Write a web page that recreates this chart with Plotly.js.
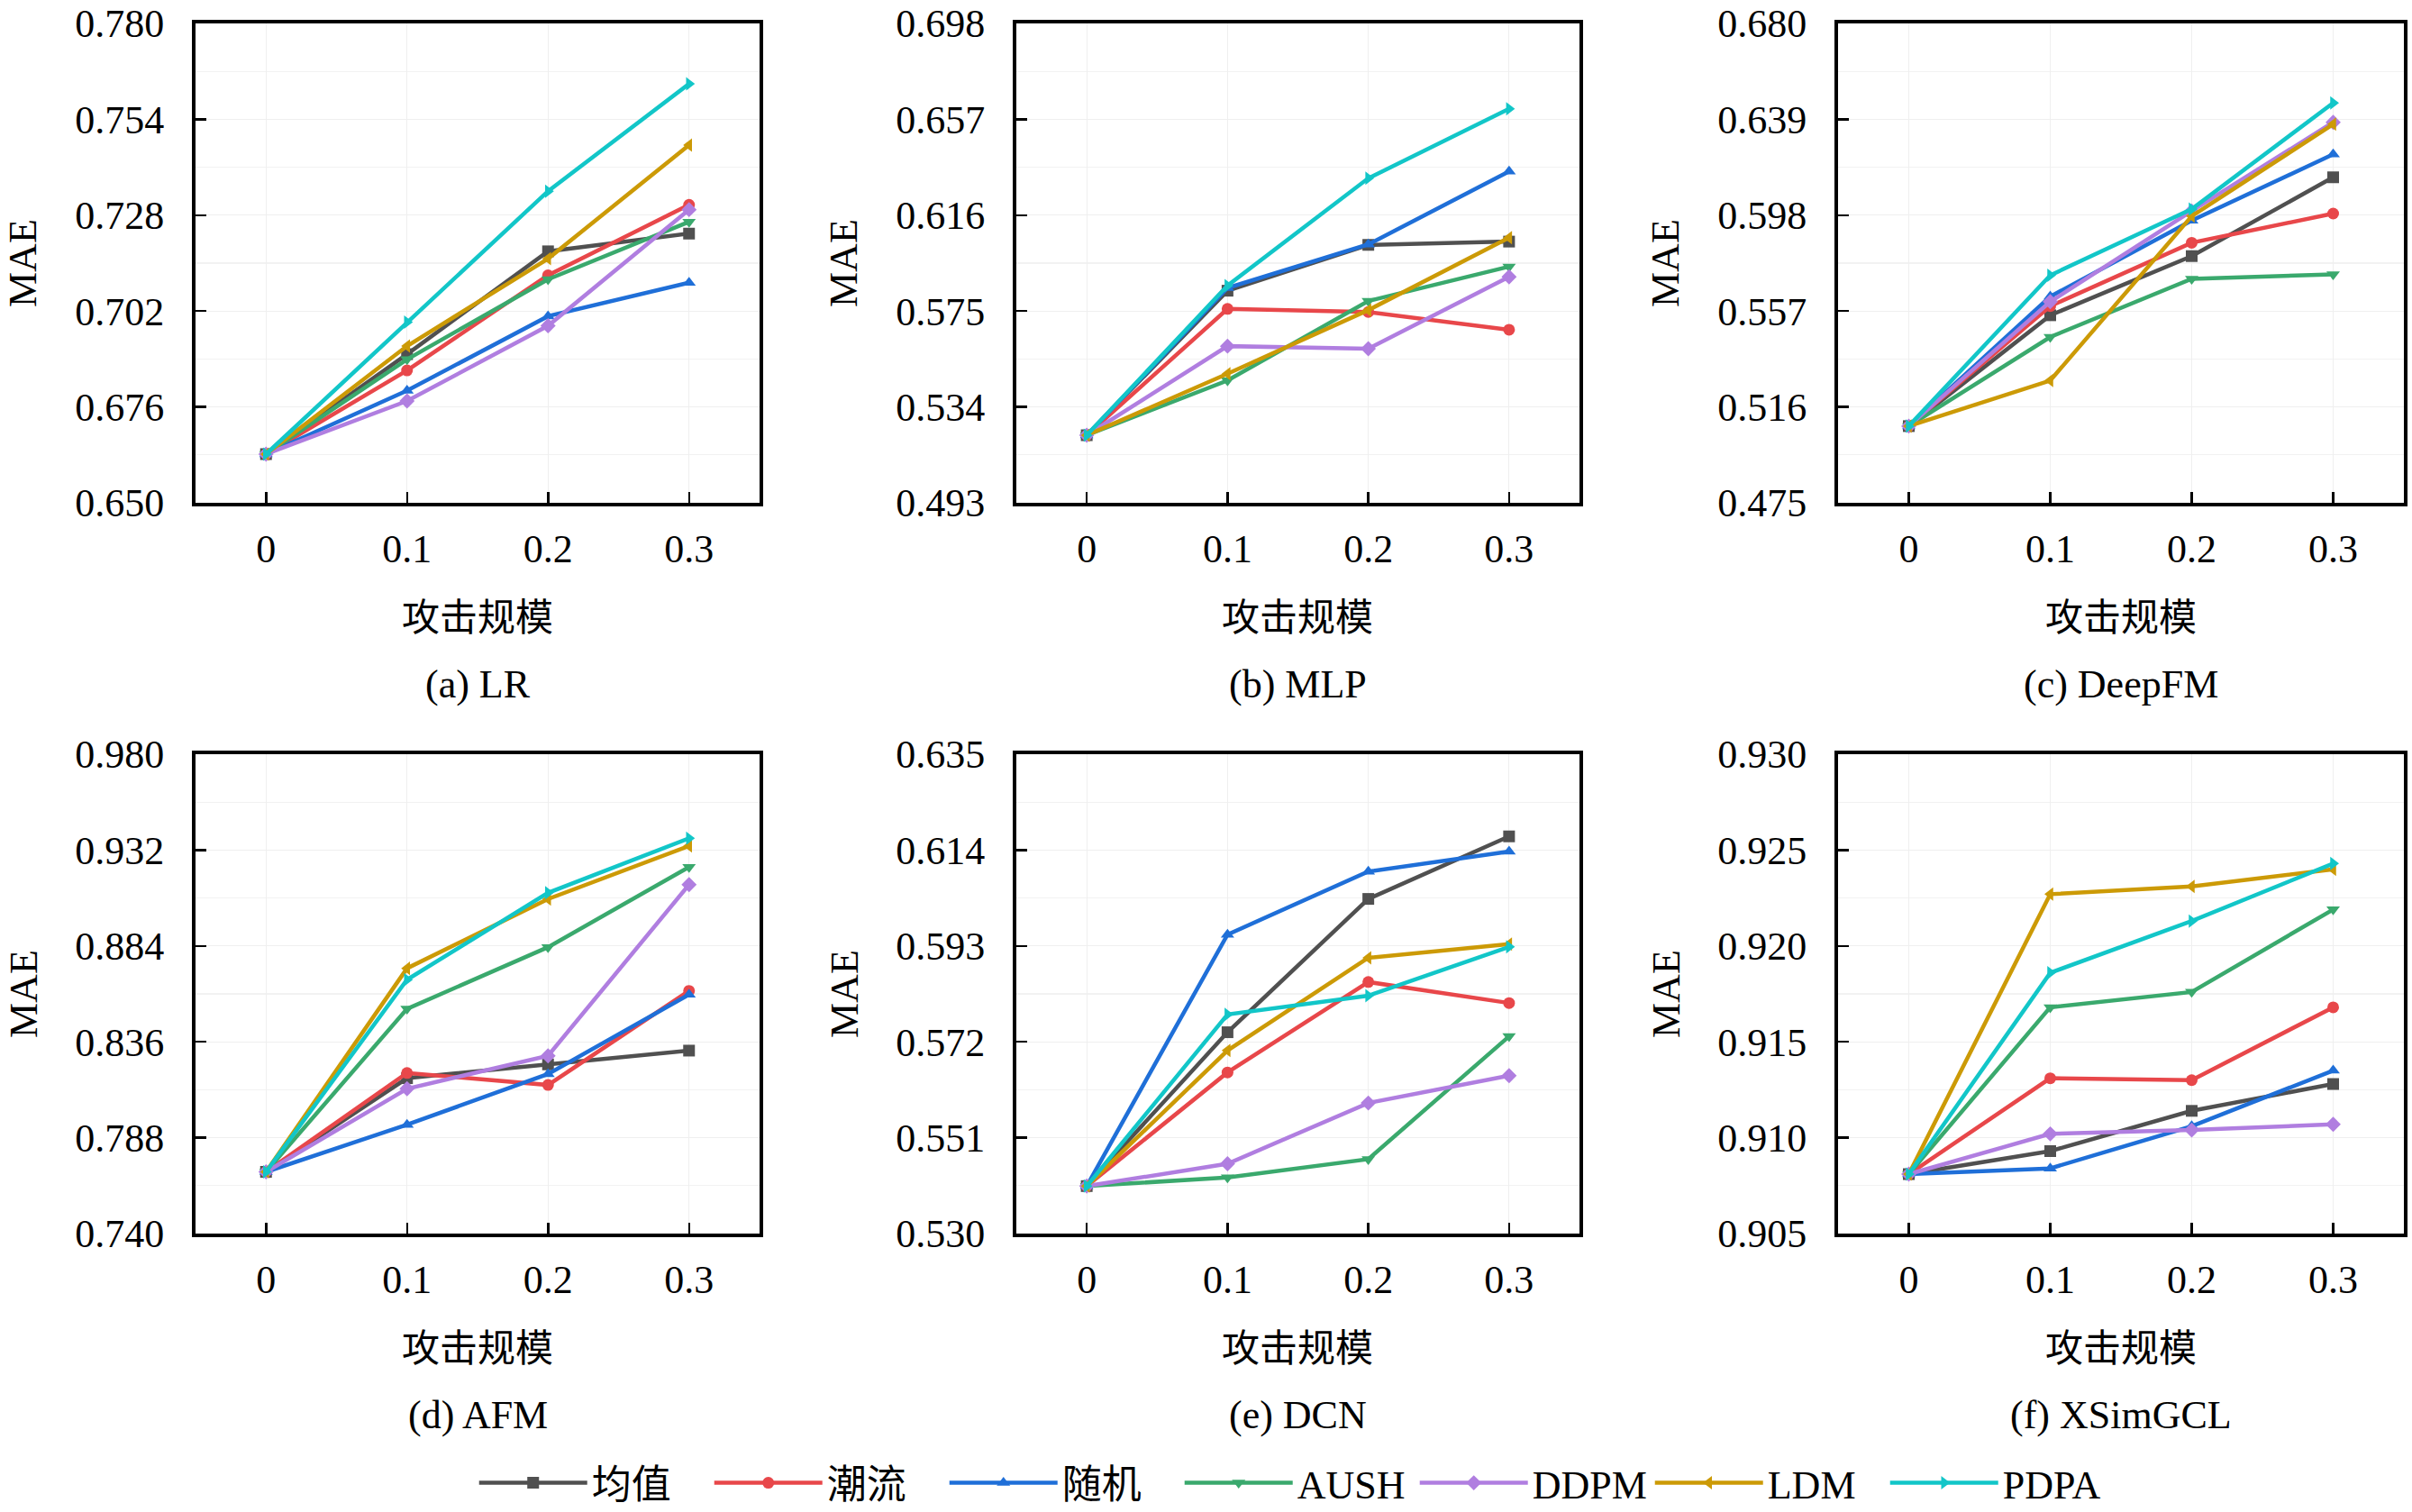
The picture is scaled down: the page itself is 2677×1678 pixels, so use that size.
<!DOCTYPE html>
<html>
<head>
<meta charset="utf-8">
<script src="https://cdn.plot.ly/plotly-3.0.1.min.js"></script>
<style>html,body{margin:0;padding:0;background:#fff;}#chart{width:2677px;height:1678px;}</style>
</head>
<body>
<div id="chart"></div>
<script>
// ---------- data ----------
const seriesNames = ['均值', '潮流', '随机', 'AUSH', 'DDPM', 'LDM', 'PDPA'];
const attackScale = [0, 0.1, 0.2, 0.3];
const xTickText = ['0', '0.1', '0.2', '0.3'];

const panelTitles = ['(a) LR', '(b) MLP', '(c) DeepFM', '(d) AFM', '(e) DCN', '(f) XSimGCL'];
const yMin = [0.650, 0.493, 0.475, 0.740, 0.530, 0.905];
const yStep = [0.026, 0.041, 0.041, 0.048, 0.021, 0.005];

// rows: 均值, 潮流, 随机, AUSH, DDPM, LDM, PDPA
const maeLR = [
  [0.6632, 0.6903, 0.7182, 0.7230],
  [0.6632, 0.6859, 0.7117, 0.7308],
  [0.6632, 0.6804, 0.7006, 0.7097],
  [0.6632, 0.6889, 0.7106, 0.7262],
  [0.6632, 0.6776, 0.6980, 0.7295],
  [0.6632, 0.6925, 0.7162, 0.7470],
  [0.6632, 0.6990, 0.7345, 0.7636]
];
const maeMLP = [
  [0.5219, 0.5837, 0.6033, 0.6047],
  [0.5219, 0.5759, 0.5746, 0.5670],
  [0.5219, 0.5849, 0.6035, 0.6347],
  [0.5219, 0.5453, 0.5793, 0.5940],
  [0.5219, 0.5600, 0.5589, 0.5896],
  [0.5219, 0.5482, 0.5754, 0.6064],
  [0.5219, 0.5859, 0.6318, 0.6615]
];
const maeDeepFM = [
  [0.5078, 0.5552, 0.5805, 0.6142],
  [0.5078, 0.5591, 0.5862, 0.5987],
  [0.5078, 0.5632, 0.5957, 0.6240],
  [0.5078, 0.5459, 0.5708, 0.5727],
  [0.5078, 0.5610, 0.5998, 0.6377],
  [0.5078, 0.5273, 0.5976, 0.6369],
  [0.5078, 0.5723, 0.6006, 0.6460]
];
const maeAFM = [
  [0.7709, 0.8178, 0.8247, 0.8316],
  [0.7709, 0.8204, 0.8144, 0.8615],
  [0.7709, 0.7945, 0.8199, 0.8597],
  [0.7709, 0.8525, 0.8834, 0.9235],
  [0.7709, 0.8125, 0.8290, 0.9147],
  [0.7709, 0.8728, 0.9075, 0.9341],
  [0.7709, 0.8671, 0.9106, 0.9379]
];
const maeDCN = [
  [0.5404, 0.5741, 0.6033, 0.6170],
  [0.5404, 0.5653, 0.5851, 0.5805],
  [0.5404, 0.5955, 0.6093, 0.6137],
  [0.5404, 0.5423, 0.5463, 0.5732],
  [0.5404, 0.5453, 0.5586, 0.5646],
  [0.5404, 0.5701, 0.5904, 0.5934],
  [0.5404, 0.5780, 0.5821, 0.5928]
];
const maeXSimGCL = [
  [0.9081, 0.9093, 0.9114, 0.9128],
  [0.9081, 0.9131, 0.9130, 0.9168],
  [0.9081, 0.9084, 0.9106, 0.9135],
  [0.9081, 0.9168, 0.9176, 0.9219],
  [0.9081, 0.9102, 0.9104, 0.9107],
  [0.9081, 0.9227, 0.9231, 0.9240],
  [0.9081, 0.9186, 0.9213, 0.9243]
];
const panelData = [maeLR, maeMLP, maeDeepFM, maeAFM, maeDCN, maeXSimGCL];

// ---------- style ----------
const colors = ['#505050', '#e8474a', '#1f6fd8', '#3aa96d', '#b07ee0', '#cc9a06', '#12c6c8'];
const symbols = ['square', 'circle', 'triangle-up', 'triangle-down', 'diamond', 'triangle-left', 'triangle-right'];
const FONT = 'Liberation Serif, Noto Sans CJK SC, serif';
const W = 2677, H = 1678;

// panel boxes in pixels [left, right, top, bottom]
const colX = [[217, 843], [1128, 1753], [2040, 2668]];
const rowY = [[26, 558], [837, 1369]];

const traces = [];
const layout = {
  width: W, height: H,
  margin: {l: 0, r: 0, t: 0, b: 0, autoexpand: false},
  paper_bgcolor: '#fff', plot_bgcolor: '#fff',
  font: {family: FONT, size: 43, color: '#000'},
  showlegend: true,
  legend: {
    orientation: 'h', x: 0.538, xanchor: 'center', y: 1 - 1646 / H, yanchor: 'middle',
    font: {family: FONT, size: 44, color: '#000'},
    itemwidth: 120, entrywidth: 126, entrywidthmode: 'pixels',
    tracegroupgap: 0, bgcolor: 'rgba(0,0,0,0)'
  },
  annotations: []
};

for (let p = 0; p < 6; p++) {
  const r = Math.floor(p / 3), c = p % 3;
  const [xl, xr] = colX[c];
  const [yt, yb] = rowY[r];
  const ax = p === 0 ? '' : String(p + 1);
  const xa = 'xaxis' + ax, ya = 'yaxis' + ax;
  const yMax = yMin[p] + 5 * yStep[p];
  layout[xa] = {
    domain: [xl / W, xr / W], anchor: 'y' + ax,
    range: [-0.05, 0.35], tickmode: 'array', tickvals: attackScale, ticktext: xTickText,
    ticks: 'inside', ticklen: 12, tickwidth: 2.5, tickcolor: '#000',
    showline: true, linecolor: '#000', linewidth: 4, mirror: true,
    showgrid: true, gridcolor: '#efefef', gridwidth: 1.2, zeroline: false,
    tickfont: {family: FONT, size: 44, color: '#000'}, ticklabelstandoff: 9,
    fixedrange: true
  };
  layout[ya] = {
    domain: [1 - yb / H, 1 - yt / H], anchor: 'x' + ax,
    range: [yMin[p], yMax], tickmode: 'linear', tick0: yMin[p], dtick: yStep[p], tickformat: '.3f',
    ticks: 'inside', ticklen: 12, tickwidth: 2.5, tickcolor: '#000',
    showline: true, linecolor: '#000', linewidth: 4, mirror: true,
    showgrid: true, gridcolor: '#efefef', gridwidth: 1.2, zeroline: false,
    minor: {tick0: yMin[p], dtick: yStep[p] / 2, showgrid: true, gridcolor: '#f2f2f2', gridwidth: 1.2, ticklen: 0},
    tickfont: {family: FONT, size: 44, color: '#000'}, ticklabelstandoff: 22,
    fixedrange: true
  };
  const cx = (xl + xr) / 2 / W;
  // y-axis title
  layout.annotations.push({
    text: 'MAE', xref: 'paper', yref: 'paper', x: 26 / W + (xl - 217) / W, y: 1 - (yt + yb) / 2 / H,
    xanchor: 'center', yanchor: 'middle', textangle: -90, showarrow: false,
    font: {family: FONT, size: 44, color: '#000'}
  });
  // x-axis title
  layout.annotations.push({
    text: '攻击规模', xref: 'paper', yref: 'paper', x: cx, y: 1 - (yb + 128) / H,
    xanchor: 'center', yanchor: 'middle', showarrow: false,
    font: {family: FONT, size: 42, color: '#000'}
  });
  // caption
  layout.annotations.push({
    text: panelTitles[p], xref: 'paper', yref: 'paper', x: cx, y: 1 - (yb + 201) / H,
    xanchor: 'center', yanchor: 'middle', showarrow: false,
    font: {family: FONT, size: 44, color: '#000'}
  });

  const data = panelData[p];
  for (let s = 0; s < seriesNames.length; s++) {
    traces.push({
      type: 'scatter', mode: 'lines+markers',
      x: attackScale, y: data[s],
      xaxis: 'x' + ax, yaxis: 'y' + ax,
      name: seriesNames[s], legendgroup: seriesNames[s], showlegend: p === 0,
      line: {color: colors[s], width: 4.5},
      marker: {symbol: symbols[s], size: 13, color: colors[s]},
      cliponaxis: false, hoverinfo: 'skip'
    });
  }
}

Plotly.newPlot('chart', traces, layout, {staticPlot: true, displayModeBar: false});
</script>
</body>
</html>
